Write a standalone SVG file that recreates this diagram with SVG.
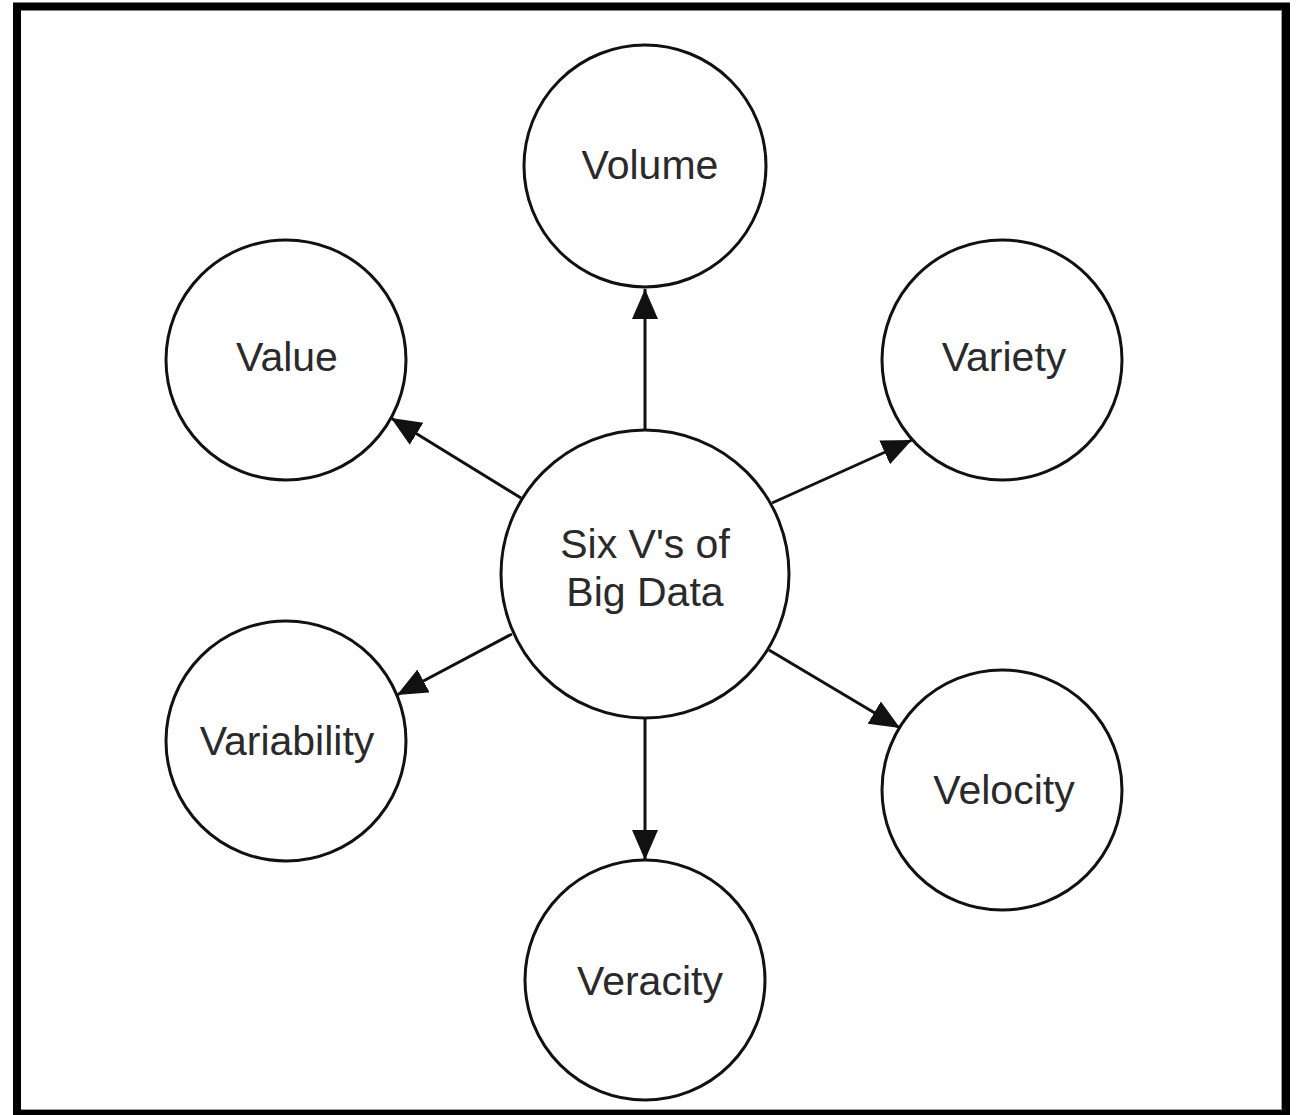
<svg xmlns="http://www.w3.org/2000/svg" width="1299" height="1115" viewBox="0 0 1299 1115">
<style>
.node circle{fill:#fff;stroke:#111;stroke-width:3}
.node text{font-family:"Liberation Sans",Arial,sans-serif;font-size:41px;fill:#2a2a2a;text-anchor:middle}
.edge{stroke:#111;stroke-width:3;fill:none;marker-end:url(#arr)}
</style>
<defs>
<marker id="arr" markerUnits="userSpaceOnUse" markerWidth="32" markerHeight="28" refX="30" refY="13" orient="auto">
<path d="M0,0 L30,13 L0,26 z" fill="#111"/>
</marker>
</defs>
<rect x="0" y="0" width="1299" height="1115" fill="#fff"/>
<rect x="17" y="6.5" width="1269" height="1107.5" fill="none" stroke="#000" stroke-width="8"/>
<line x1="21" y1="1109.5" x2="1282" y2="1109.5" stroke="#999" stroke-width="1"/>
<line x1="1281.5" y1="11" x2="1281.5" y2="1110" stroke="#999" stroke-width="1"/>
<g id="connectors">
<line class="edge" x1="645" y1="430" x2="645" y2="289"/>
<line class="edge" x1="645" y1="718" x2="645" y2="860"/>
<line class="edge" x1="521" y1="498" x2="391" y2="418"/>
<line class="edge" x1="772" y1="503" x2="912" y2="440"/>
<line class="edge" x1="512" y1="634" x2="397" y2="695"/>
<line class="edge" x1="769" y1="650" x2="900" y2="728"/>
</g>
<g id="center" class="node"><circle cx="645" cy="574" r="144"/><text x="645" y="558">Six V's of</text><text x="645" y="606">Big Data</text></g>
<g id="volume" class="node"><circle cx="645" cy="166" r="121"/><text x="650" y="179">Volume</text></g>
<g id="value" class="node"><circle cx="286" cy="360" r="120"/><text x="287" y="371">Value</text></g>
<g id="variety" class="node"><circle cx="1002" cy="360" r="120"/><text x="1004" y="371">Variety</text></g>
<g id="variability" class="node"><circle cx="286" cy="741" r="120"/><text x="287" y="755">Variability</text></g>
<g id="velocity" class="node"><circle cx="1002" cy="790" r="120"/><text x="1004" y="804">Velocity</text></g>
<g id="veracity" class="node"><circle cx="645" cy="980" r="120"/><text x="650" y="995">Veracity</text></g>
</svg>
